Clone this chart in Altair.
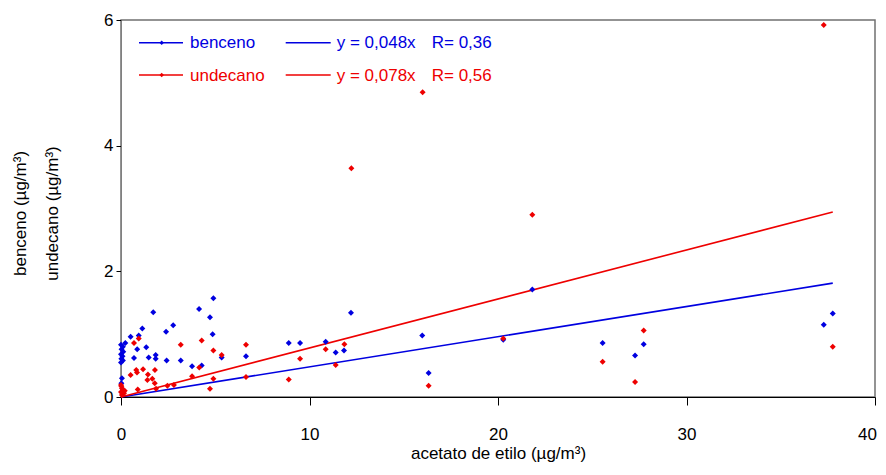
import altair as alt
import pandas as pd

# ---- data ----
benceno_x = [4.90, 1.71, 4.14, 4.72, 2.77, 2.39, 1.13, 0.94, 0.51, 0.23, 4.86, 1.34, 0.86,
             0.69, 1.47, 1.84, 1.84, 2.42, 3.17, 3.77, 4.28, 5.34, 6.63, 0.05, 0.02,
             0.00, 0.10, 0.03, 0.12, 0.00, 0.08, 0.02, 0.10, 0.00,
             12.20, 8.90, 9.50, 10.86, 11.39, 11.83, 15.98, 16.32, 20.28, 25.55, 27.27,
             27.73, 37.28, 37.76, 21.82]
benceno_y = [1.57, 1.35, 1.40, 1.27, 1.14, 1.04, 1.09, 0.98, 0.96, 0.86, 1.00, 0.79, 0.76,
             0.62, 0.63, 0.67, 0.61, 0.58, 0.58, 0.49, 0.50, 0.63, 0.65, 0.30, 0.22,
             0.83, 0.80, 0.76, 0.72, 0.68, 0.65, 0.61, 0.58, 0.55,
             1.34, 0.86, 0.86, 0.88, 0.71, 0.74, 0.98, 0.38, 0.91, 0.86, 0.66,
             0.84, 1.15, 1.33, 1.71]

undecano_x = [0.94, 0.69, 3.17, 4.28, 6.63, 4.90, 5.34, 1.17, 0.81, 0.85, 0.51, 1.43, 1.80,
              1.40, 1.66, 1.79, 4.15, 3.77, 4.90, 6.63, 0.89, 1.86, 2.46, 2.81, 4.72,
              0.00, 0.05, 0.10, 0.00, 0.16, 0.05, 0.20, 0.02, 0.08,
              10.86, 11.85, 9.50, 8.90, 11.39, 16.32, 20.28, 25.55, 27.27, 27.73, 37.76,
              21.82, 12.22, 16.00, 37.28]
undecano_y = [0.93, 0.86, 0.83, 0.90, 0.83, 0.74, 0.67, 0.44, 0.43, 0.39, 0.35, 0.36, 0.43,
              0.27, 0.29, 0.22, 0.47, 0.33, 0.29, 0.32, 0.12, 0.13, 0.18, 0.19, 0.13,
              0.19, 0.14, 0.11, 0.08, 0.06, 0.03, 0.10, 0.17, 0.05,
              0.76, 0.84, 0.61, 0.28, 0.51, 0.18, 0.93, 0.56, 0.24, 1.06, 0.80,
              2.90, 3.64, 4.85, 5.92]

series = ["benceno", "undecano"]
slopes = [0.048, 0.078]
fit_labels = ["y = 0,048x", "y = 0,078x"]
r_labels = ["R= 0,36", "R= 0,56"]
x_ticks = [0, 10, 20, 30, 40]
y_ticks = [0, 2, 4, 6]

BLUE = "#0000E0"
RED = "#EE0000"
FONT = "Liberation Sans"

pts = pd.DataFrame({
    "x": benceno_x + undecano_x,
    "y": benceno_y + undecano_y,
    "serie": ["benceno"] * len(benceno_x) + ["undecano"] * len(undecano_x),
})

xmax = max(benceno_x + undecano_x)
fit = pd.DataFrame({
    "x": [0, xmax, 0, xmax],
    "y": [0, slopes[0] * xmax, 0, slopes[1] * xmax],
    "serie": ["benceno", "benceno", "undecano", "undecano"],
})

color = alt.Color("serie:N", scale=alt.Scale(domain=series, range=[BLUE, RED]), legend=None)

x_enc = alt.X(
    "x:Q",
    scale=alt.Scale(domain=[0, 40], nice=False),
    axis=alt.Axis(
        values=x_ticks, title="acetato de etilo (µg/m³)", tickSize=8, labelPadding=21,
        labelFlush=False,
        labelOffset={"condition": {"test": "datum.value == 40", "value": -8}, "value": 0},
        domainColor="black", titleY=61, titleBaseline="alphabetic",
    ),
)
y_enc = alt.Y(
    "y:Q",
    scale=alt.Scale(domain=[0, 6], nice=False),
    axis=alt.Axis(
        values=y_ticks, title=["benceno (µg/m³)", "undecano (µg/m³)"], tickSize=5,
        labelPadding=3, labelFlush=False, domainColor="#808080", titleAngle=-90, titleX=-108.6,
        titleY=193, titleBaseline="top", titleAlign="center", titleLineHeight=32,
    ),
)

lines = alt.Chart(fit).mark_line(strokeWidth=1.6).encode(x=x_enc, y=y_enc, color=color, detail="serie:N")
points = alt.Chart(pts).mark_point(shape="diamond", filled=True, size=36, opacity=1).encode(
    x=x_enc, y=y_enc, color=color
)

one = pd.DataFrame({"a": [0]})
legend_layers = []
rows_y = [22.7, 55.0]
cols = [BLUE, RED]
for i in range(2):
    yy = rows_y[i]
    c = cols[i]
    legend_layers.append(
        alt.Chart(one).mark_rule(color=c, strokeWidth=1.6).encode(
            x=alt.value(18), x2=alt.value(62), y=alt.value(yy))
    )
    legend_layers.append(
        alt.Chart(one).mark_point(shape="diamond", filled=True, size=20, color=c, opacity=1).encode(
            x=alt.value(40.7), y=alt.value(yy))
    )
    legend_layers.append(
        alt.Chart(one).mark_text(align="left", baseline="middle", fontSize=17, font=FONT, color=c).encode(
            x=alt.value(69), y=alt.value(yy + 0.5), text=alt.value(series[i]))
    )
    legend_layers.append(
        alt.Chart(one).mark_rule(color=c, strokeWidth=1.6).encode(
            x=alt.value(164.7), x2=alt.value(209.7), y=alt.value(yy))
    )
    legend_layers.append(
        alt.Chart(one).mark_text(align="left", baseline="middle", fontSize=17, font=FONT, color=c).encode(
            x=alt.value(215.7), y=alt.value(yy + 0.5), text=alt.value(fit_labels[i]))
    )
    legend_layers.append(
        alt.Chart(one).mark_text(align="left", baseline="middle", fontSize=17, font=FONT, color=c).encode(
            x=alt.value(310.7), y=alt.value(yy + 0.5), text=alt.value(r_labels[i]))
    )

chart = alt.layer(lines, points, *legend_layers).properties(
    width=754,
    height=377,
    autosize="none",
    padding={"left": 113, "top": 12, "right": 3, "bottom": 65},
).configure_view(
    stroke="#707070", strokeWidth=1.5
).configure_axis(
    grid=False, labelFont=FONT, titleFont=FONT, labelFontSize=17, titleFontSize=17,
    titleFontWeight="normal", labelColor="black", titleColor="black", tickColor="black",
)

chart.save("out.html", embed_options={"renderer": "svg", "actions": False})
